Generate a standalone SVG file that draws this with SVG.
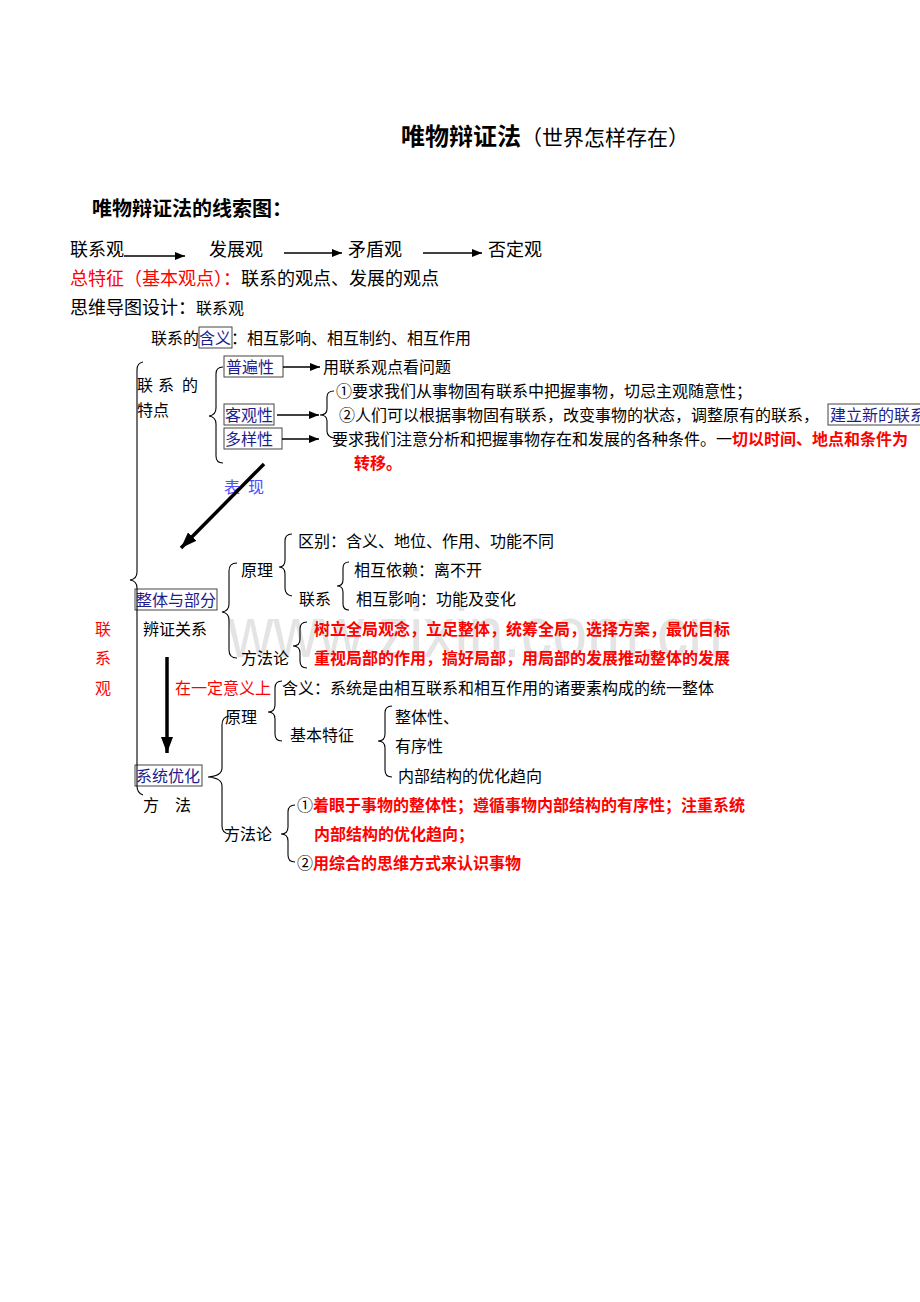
<svg xmlns="http://www.w3.org/2000/svg" width="920" height="1302" viewBox="0 0 920 1302">
<defs>
<style>
text{font-family:"Noto Sans CJK SC","Noto Sans",sans-serif;font-size:16px;fill:#000}
.r{fill:#ff0000;font-weight:bold}
.rn{fill:#ff0000}
.b{fill:#1c1c8e}
.bl{fill:#4d4dff}
.s18{font-size:18px}
.bx{fill:none;stroke:#444;stroke-width:1}
.br{fill:none;stroke:#000;stroke-width:1.1}
.ln{stroke:#000;stroke-width:1.4;fill:none}
.th{stroke:#000;stroke-width:3.5;fill:none}
.wm{font-family:"Liberation Sans",sans-serif;font-size:72px;fill:#e4e4e4}
</style>
<marker id="ah" viewBox="0 0 10 8" refX="10" refY="4" markerWidth="10" markerHeight="8" markerUnits="userSpaceOnUse" orient="auto"><path d="M0,0 L10,4 L0,8 z" fill="#000"/></marker>
<marker id="ahb" viewBox="0 0 16 12" refX="16" refY="6" markerWidth="16" markerHeight="12" markerUnits="userSpaceOnUse" orient="auto"><path d="M0,0 L16,6 L0,12 z" fill="#000"/></marker>
</defs>
<rect width="920" height="1302" fill="#fff"/>
<text class="wm" x="228" y="657" textLength="495" lengthAdjust="spacingAndGlyphs">www.zixin.com.cn</text>

<g id="title">
<text x="401" y="145" style="font-size:24px;font-weight:bold">唯物辩证法<tspan style="font-size:21px;font-weight:normal">（世界怎样存在）</tspan></text>
</g>
<g id="subtitle"><text x="92" y="216" style="font-size:20px;font-weight:bold">唯物辩证法的线索图：</text></g>
<g id="n-lianxiguan"><text class="s18" x="70" y="256">联系观</text></g>
<g id="n-fazhanguan"><text class="s18" x="209" y="256">发展观</text></g>
<g id="n-maodunguan"><text class="s18" x="348" y="256">矛盾观</text></g>
<g id="n-foudingguan"><text class="s18" x="488" y="256">否定观</text></g>
<g id="zongtezheng"><text class="s18" x="70" y="285"><tspan fill="#ff0000">总特征（基本观点）：</tspan>联系的观点、发展的观点</text></g>
<g id="siwei"><text class="s18" x="70" y="314">思维导图设计：<tspan style="font-size:16px">联系观</tspan></text></g>
<g id="hanyi">
<text x="151" y="344">联系的<tspan class="b">含义</tspan>：相互影响、相互制约、相互作用</text>
<rect class="bx" x="199" y="327" width="33" height="21"/>
</g>
<g id="tedian"><text x="137" y="391">联<tspan x="158">系</tspan><tspan x="182">的</tspan></text><text x="137" y="416">特点</text></g>
<g id="n-pubianxing"><rect class="bx" x="224" y="356" width="59" height="21"/><text class="b" x="226" y="373">普遍性</text></g>
<g id="n-keguanxing"><rect class="bx" x="224" y="404" width="50" height="21"/><text class="b" x="225" y="421">客观性</text></g>
<g id="n-duoyangxing"><rect class="bx" x="224" y="428" width="58" height="21"/><text class="b" x="225" y="445">多样性</text></g>
<g id="t-pubian"><text x="323" y="373">用联系观点看问题</text></g>
<g id="t-keguan">
<text x="336" y="397">①要求我们从事物固有联系中把握事物，切忌主观随意性；</text>
<text x="339" y="421">②人们可以根据事物固有联系，改变事物的状态，调整原有的联系，</text>
<rect class="bx" x="828" y="404" width="100" height="21"/><text class="b" x="830" y="421">建立新的联系</text>
</g>
<g id="t-duoyang">
<text x="332" y="445">要求我们注意分析和把握事物存在和发展的各种条件。一<tspan class="r">切以时间、地点和条件为</tspan></text>
<text class="r" x="354" y="469">转移。</text>
</g>
<g id="biaoxian"><text class="bl" x="224" y="493">表<tspan x="248">现</tspan></text></g>
<g id="n-lianxiguan-side"><text class="rn" x="95" y="635">联</text><text class="rn" x="95" y="664">系</text><text class="rn" x="95" y="694">观</text></g>
<g id="n-zhengti">
<rect class="bx" x="135" y="589" width="82" height="21"/><text class="b" x="136" y="606">整体与部分</text>
<text x="143" y="635">辨证关系</text>
</g>
<g id="zt-yuanli">
<text x="241" y="576">原理</text>
<text x="298" y="547">区别：含义、地位、作用、功能不同</text>
<text x="299" y="605">联系</text>
<text x="354" y="576">相互依赖：离不开</text>
<text x="356" y="605">相互影响：功能及变化</text>
</g>
<g id="zt-fangfalun">
<text x="241" y="664">方法论</text>
<text class="r" x="314" y="635">树立全局观念，立足整体，统筹全局，选择方案，最优目标</text>
<text class="r" x="314" y="664">重视局部的作用，搞好局部，用局部的发展推动整体的发展</text>
</g>
<g id="yiding"><text class="rn" x="175" y="694">在一定意义上</text></g>
<g id="n-xitong">
<rect class="bx" x="135" y="765" width="67" height="21"/><text class="b" x="136" y="782">系统优化</text>
<text x="143" y="811">方<tspan x="175">法</tspan></text>
</g>
<g id="xt-yuanli">
<text x="225" y="723">原理</text>
<text x="282" y="694">含义：系统是由相互联系和相互作用的诸要素构成的统一整体</text>
<text x="290" y="741">基本特征</text>
<text x="395" y="723">整体性、</text>
<text x="395" y="752">有序性</text>
<text x="398" y="782">内部结构的优化趋向</text>
</g>
<g id="xt-fangfalun">
<text x="224" y="840">方法论</text>
<text x="297" y="811">①<tspan class="r">着眼于事物的整体性；遵循事物内部结构的有序性；注重系统</tspan></text>
<text class="r" x="314" y="840">内部结构的优化趋向；</text>
<text x="297" y="869">②<tspan class="r">用综合的思维方式来认识事物</tspan></text>
</g>

<g id="connectors">
<line class="ln" x1="124" y1="256" x2="185" y2="256" marker-end="url(#ah)"/>
<line class="ln" x1="284" y1="253" x2="342" y2="253" marker-end="url(#ah)"/>
<line class="ln" x1="423" y1="253" x2="482" y2="253" marker-end="url(#ah)"/>
<line class="ln" x1="283" y1="367" x2="320" y2="367" marker-end="url(#ah)"/>
<line class="ln" x1="277" y1="415" x2="319" y2="415" marker-end="url(#ah)"/>
<line class="ln" x1="282" y1="439" x2="319" y2="439" marker-end="url(#ah)"/>
<line class="th" x1="264" y1="464" x2="181" y2="548" marker-end="url(#ahb)"/>
<line class="th" x1="167" y1="657" x2="167" y2="753" marker-end="url(#ahb)"/>
<path class="br" d="M143,362 Q137,363 137,370 L137,572 Q137,579 130,580 Q137,581 137,588 L137,786 Q137,793 143,795"/>
<path class="br" d="M223,367 Q216,367 216,374 L216,408 Q216,415 209,416 Q216,417 216,424 L216,456 Q216,463 223,463"/>
<path class="br" d="M334,391 Q327,391 327,397 L327,409 Q327,415 320,415 Q327,415 327,421 L327,431 Q327,437 334,438"/>
<path class="br" d="M237,563 Q229,563 229,571 L229,604 Q229,611 222,612 Q229,613 229,620 L229,650 Q229,658 237,658"/>
<path class="br" d="M292,534 Q285,534 285,541 L285,560 Q285,567 279,567 Q285,567 285,574 L285,588 Q285,595 292,596"/>
<path class="br" d="M349,562 Q343,562 343,568 L343,580 Q343,586 337,586 Q343,586 343,592 L343,604 Q343,610 349,610"/>
<path class="br" d="M307,622 Q300,622 300,629 L300,639 Q300,646 293,646 Q300,646 300,653 L300,661 Q300,668 307,668"/>
<path class="br" d="M282,681 Q275,681 275,688 L275,705 Q275,712 268,712 Q275,712 275,719 L275,734 Q275,741 282,741"/>
<path class="br" d="M392,706 Q385,706 385,713 L385,734 Q385,741 378,741 Q385,741 385,748 L385,770 Q385,777 392,777"/>
<path class="br" d="M229,716 Q222,717 222,725 L222,768 Q222,776 208,777 Q222,778 222,786 L222,826 Q222,833 229,834"/>
<path class="br" d="M295,805 Q288,805 288,812 L288,827 Q288,834 281,834 Q288,834 288,841 L288,855 Q288,862 295,862"/>
</g>
</svg>
